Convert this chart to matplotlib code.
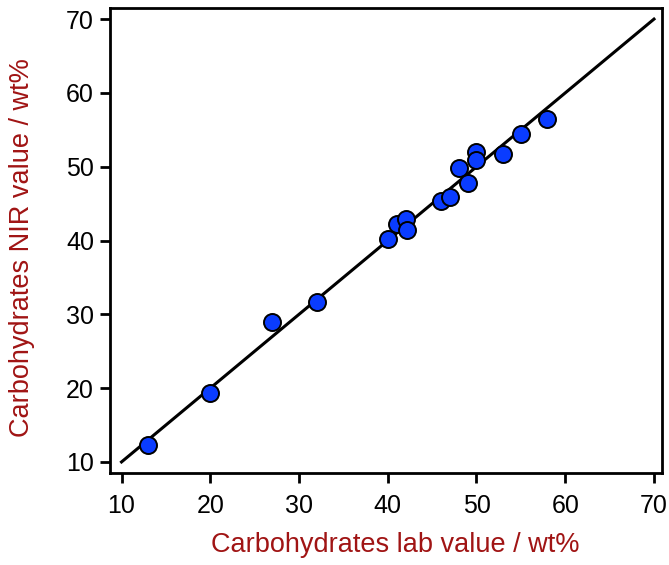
import matplotlib
matplotlib.use("Agg")
import matplotlib.pyplot as plt

# lab reference vs NIR prediction, carbohydrates in wt%
lab_value = [13, 20, 27, 32, 40, 41, 42, 42.2, 46, 47, 48, 49, 50, 50, 53, 55, 58]
nir_value = [12.3, 19.4, 29.0, 31.7, 40.2, 42.2, 42.9, 41.4, 45.3, 45.9, 49.8, 47.8, 52.0, 50.9, 51.7, 54.4, 56.5]
line_x = [10, 70]
line_y = [10, 70]
ticks = [10, 20, 30, 40, 50, 60, 70]

plt.rcParams["font.family"] = ["Liberation Sans", "DejaVu Sans"]
label_color = "#a01414"

fig = plt.figure(figsize=(6.69, 5.65), dpi=100)
ax = fig.add_axes([0.1644, 0.1628, 0.8251, 0.823])

ax.plot(line_x, line_y, color="black", lw=2.2, zorder=2)
ax.scatter(lab_value, nir_value, s=150, color="#0a3cff", edgecolor="black", linewidth=1.4, zorder=3)

ax.set_xlim(8.7, 70.9)
ax.set_ylim(8.5, 71.5)
ax.set_xticks(ticks)
ax.set_yticks(ticks)
ax.tick_params(direction="out", length=7, width=2, labelsize=18)
ax.tick_params(axis="x", pad=8)
ax.tick_params(axis="y", pad=4.5)
for s in ax.spines.values():
    s.set_linewidth(2)

ax.set_xlabel("Carbohydrates lab value / wt%", fontsize=19.5, color=label_color)
ax.set_ylabel("Carbohydrates NIR value / wt%", fontsize=19.5, color=label_color)
ax.xaxis.set_label_coords(0.517, -0.127)
ax.yaxis.set_label_coords(-0.135, 0.484)

fig.savefig("out.png", dpi=100)
